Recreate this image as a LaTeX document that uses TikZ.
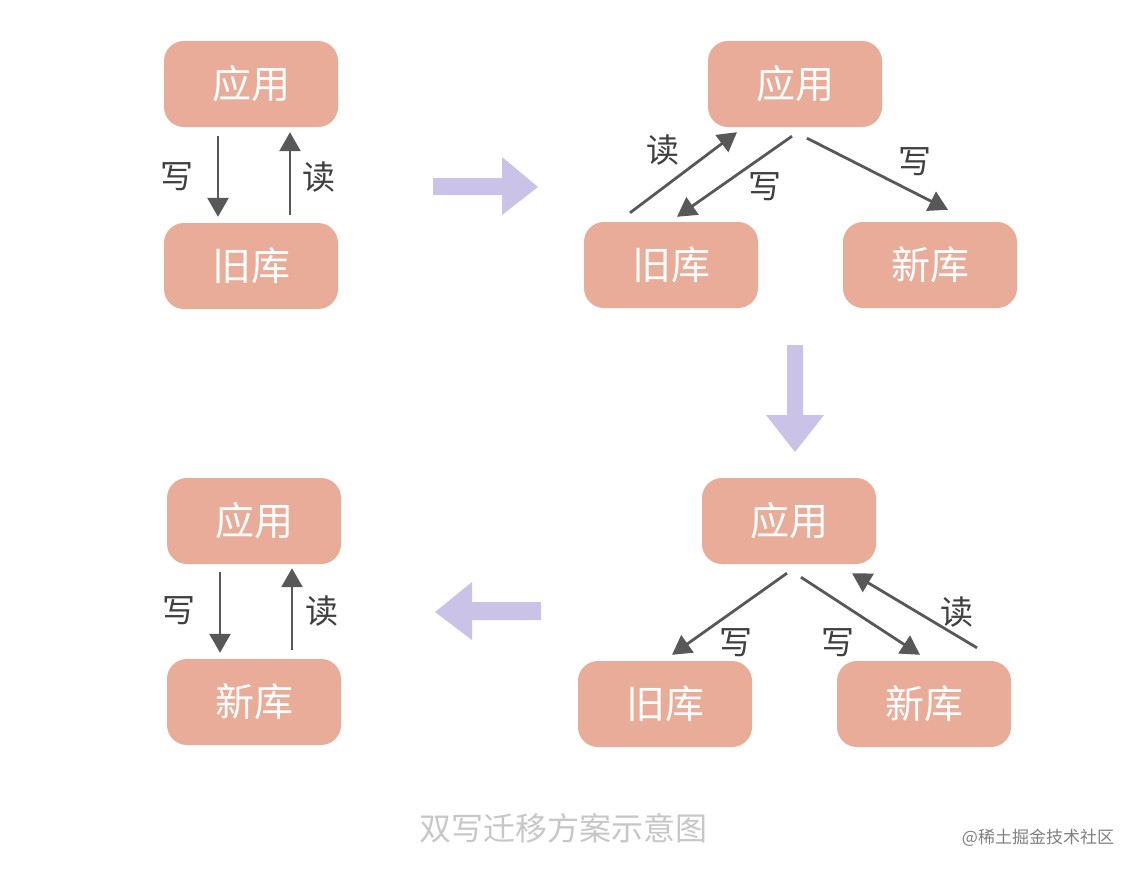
\documentclass[tikz,border=0pt]{standalone}
\usepackage{fontspec}
\setmainfont{Noto Sans CJK SC}
\usepackage{xcolor}
\usetikzlibrary{arrows.meta}

\definecolor{boxred}{RGB}{233,172,152}
\definecolor{arrowgray}{RGB}{88,88,88}
\definecolor{flowpurple}{RGB}{203,194,232}

\tikzset{
	box/.style={fill=boxred, rounded corners=20pt, minimum width=174pt, minimum height=86pt, inner sep=0pt, text=white, font=\fontsize{39}{39}\selectfont},
	rw/.style={draw=arrowgray, line width=2.8pt, -{Triangle[length=19pt,width=21pt]}},
	lbl/.style={text=black!75, font=\fontsize{33}{33}\selectfont},
	flow/.style={fill=flowpurple},
}

\begin{document}
\begin{tikzpicture}[x=1pt, y=-1pt]
		\fill[white] (0,0) rectangle (1142,871);
		\useasboundingbox (0,0) rectangle (1142,871);
		% OLD ONLY
		\node[box] (app1) at (251,84) {应用};
		\node[box] (old1) at (251,266) {旧库};
		\draw[rw] ([xshift=-33pt,yshift=-9pt]app1.south) -- ([xshift=-33pt,yshift=6pt]old1.north);
		\draw[rw] ([xshift=39pt,yshift=8pt]old1.north) -- ([xshift=39pt,yshift=-5pt]app1.south);
		\node[lbl] (w1) at (177,177) {写};
		\node[lbl] (r1) at (319,177) {读};
		\fill[flow] (433,178) -- (502,178) -- (502,157) -- (538,187) -- (502,215) -- (502,195) -- (433,195) -- cycle;
		% DOUBLE WRITE, READ OLD
		\node[box] (app2) at (795,84) {应用};
		\node[box] (old2) at (671,265) {旧库};
		\node[box] (new2) at (930,265) {新库};
		\draw[rw] ([xshift=-41pt,yshift=9pt]old2.north) -- ([xshift=-58pt,yshift=-5pt]app2.south);
		\draw[rw] ([xshift=-3pt,yshift=-9pt]app2.south) -- ([xshift=6pt,yshift=5pt]old2.north);
		\draw[rw] ([xshift=12pt,yshift=-11pt]app2.south) -- ([xshift=18pt,yshift=12pt]new2.north);
		\node[lbl] (r2) at (663,150) {读};
		\node[lbl] (w2) at (765,187) {写};
		\node[lbl] (w2n) at (915,162) {写};
		\fill[flow] (787,345) -- (803,345) -- (803,415) -- (824,415) -- (795,452) -- (766,415) -- (787,415) -- cycle;
		% DOUBLE WRITE, READ NEW
		\node[box] (app3) at (789,521) {应用};
		\node[box] (old3) at (665,704) {旧库};
		\node[box] (new3) at (924,704) {新库};
		\draw[rw] ([xshift=-2pt,yshift=-9pt]app3.south) -- ([xshift=7pt,yshift=6pt]old3.north);
		\draw[rw] ([xshift=12pt,yshift=-13pt]app3.south) -- ([xshift=-4pt,yshift=6pt]new3.north);
		\draw[rw] ([xshift=53pt,yshift=13pt]new3.north) -- ([xshift=63pt,yshift=-9pt]app3.south);
		\node[lbl] (w3) at (736,643) {写};
		\node[lbl] (w3n) at (838,643) {写};
		\node[lbl] (r3) at (957,612) {读};
		\fill[flow] (541,602) -- (472,602) -- (472,582) -- (435,612) -- (472,640) -- (472,620) -- (541,620) -- cycle;
		% NEW ONLY
		\node[box] (app4) at (254,521) {应用};
		\node[box] (new4) at (254,702) {新库};
		\draw[rw] ([xshift=-34pt,yshift=-8pt]app4.south) -- ([xshift=-34pt,yshift=6pt]new4.north);
		\draw[rw] ([xshift=38pt,yshift=9pt]new4.north) -- ([xshift=38pt,yshift=-4pt]app4.south);
		\node[lbl] (w4) at (179,611) {写};
		\node[lbl] (r4) at (322,611) {读};
		% CAPTION
		\node[text=black!22, font=\fontsize{32}{32}\selectfont] (cap) at (563,828) {双写迁移方案示意图};
		\node[text=black!50, font=\fontsize{17}{17}\selectfont] (mark) at (1038,838) {@稀土掘金技术社区};
	\end{tikzpicture}
\end{document}
